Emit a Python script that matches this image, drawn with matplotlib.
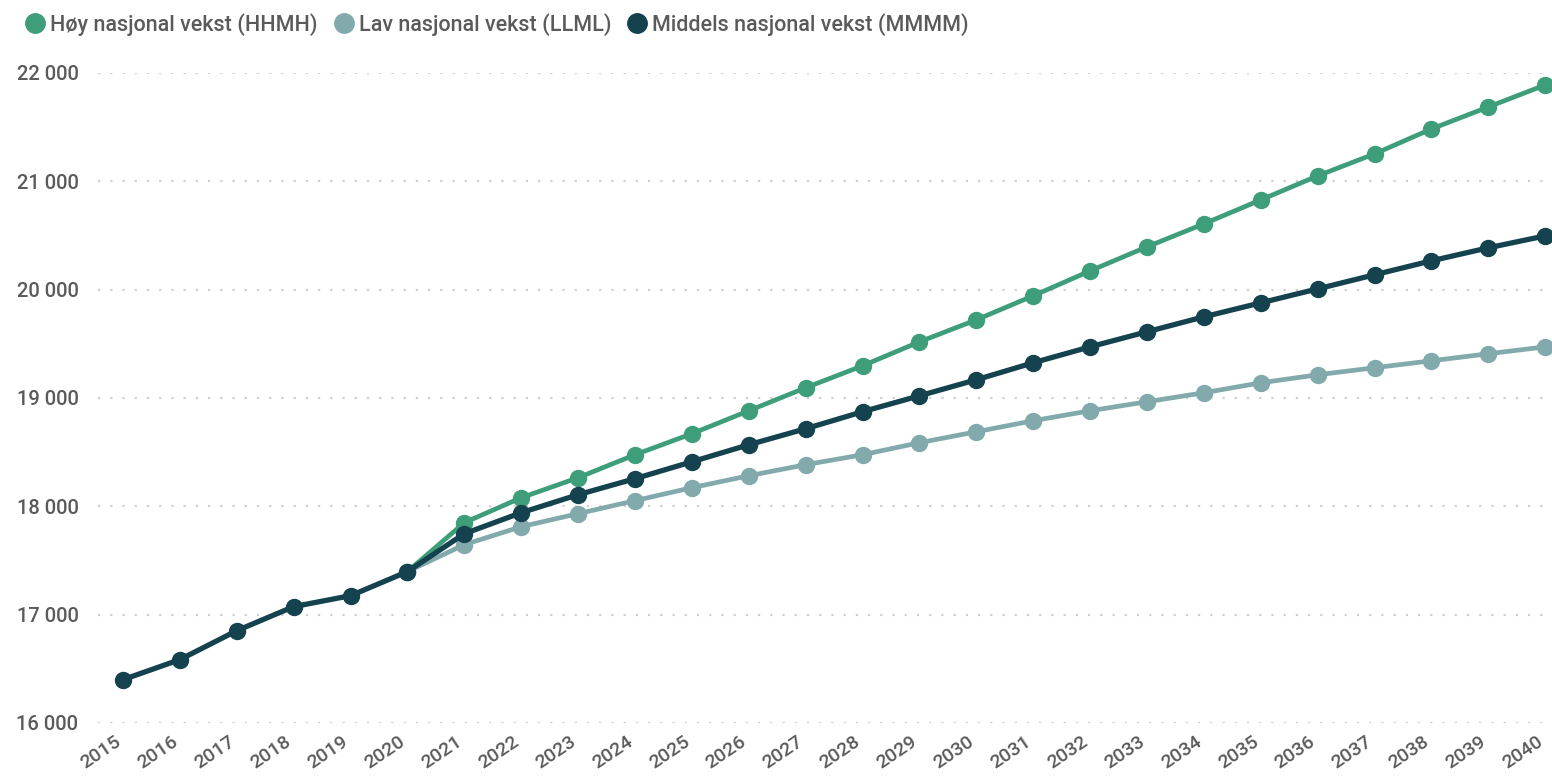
import matplotlib
matplotlib.use("Agg")
import matplotlib.pyplot as plt
from matplotlib.ticker import FuncFormatter
import matplotlib.transforms as mtransforms

years = list(range(2015, 2041))
hist = [16400, 16585, 16852, 17074, 17175, 17397]
hoy = [17849, 18079, 18264, 18476, 18670, 18882, 19094, 19297, 19518, 19721,
       19943, 20173, 20395, 20607, 20828, 21050, 21253, 21483, 21686, 21889]
middels = [17747, 17941, 18107, 18255, 18411, 18568, 18716, 18873, 19020, 19168,
           19325, 19472, 19611, 19749, 19878, 20007, 20137, 20266, 20386, 20496]
lav = [17646, 17812, 17932, 18052, 18172, 18282, 18384, 18476, 18587, 18688,
       18790, 18882, 18965, 19048, 19140, 19214, 19279, 19343, 19408, 19472]
series_names = ["Høy nasjonal vekst (HHMH)", "Lav nasjonal vekst (LLML)",
                "Middels nasjonal vekst (MMMM)"]
yticks = [16000, 17000, 18000, 19000, 20000, 21000, 22000]

c_hoy = "#3F9E7A"
c_lav = "#82AAAC"
c_mid = "#15424F"
txt = "#5a5a5a"

plt.rcParams['font.family'] = ['Roboto', 'DejaVu Sans']

fig = plt.figure(figsize=(15.52, 7.76), dpi=100)
ax = fig.add_axes([0.0631, 0.0683, 0.9369, 0.8377])

proj_years = years[5:]
ax.plot(proj_years, [hist[-1]] + hoy, color=c_hoy, lw=3.4, marker='o', ms=11.5, zorder=3,
        label=series_names[0])
ax.plot(proj_years, [hist[-1]] + lav, color=c_lav, lw=3.4, marker='o', ms=11.5, zorder=3,
        label=series_names[1])
ax.plot(years, hist + middels, color=c_mid, lw=3.8, marker='o', ms=11.5, zorder=4,
        label=series_names[2])

ax.set_xlim(2014.56, 2040.12)
ax.set_ylim(16000, 22000)
ax.set_yticks(yticks)
ax.yaxis.set_major_formatter(FuncFormatter(lambda v, p: f"{int(v):,}".replace(",", " ")))
ax.set_xticks(years)
ax.set_xticklabels([str(y) for y in years], rotation=34, ha='right', va='top',
                   rotation_mode='anchor')
ax.tick_params(axis='both', length=0, labelcolor=txt)
ax.tick_params(axis='x', pad=7, labelsize=14)
ax.tick_params(axis='y', pad=14, labelsize=14.5)
for lab in ax.get_xticklabels() + ax.get_yticklabels():
    lab.set_fontweight('medium')
offset = mtransforms.ScaledTranslation(-9 / 100, 0, fig.dpi_scale_trans)
for lab in ax.get_xticklabels():
    lab.set_transform(lab.get_transform() + offset)
for s in ax.spines.values():
    s.set_visible(False)
ax.yaxis.grid(True, color="#cfcfcf", lw=1.6, linestyle=(0, (1, 4.5)))
ax.set_axisbelow(True)
for ln in ax.lines:
    ln.set_clip_on(False)

leg = fig.legend(loc='upper left', bbox_to_anchor=(0.004, 1.008), ncol=3, frameon=False,
                 handlelength=0.9, handletextpad=0.25, columnspacing=0.75,
                 labelcolor=txt, prop={'weight': 'medium', 'size': 15.5})
for h in leg.legend_handles:
    h.set_linestyle('none')
    h.set_markersize(14)

fig.savefig("out.png", dpi=100, facecolor="white")
